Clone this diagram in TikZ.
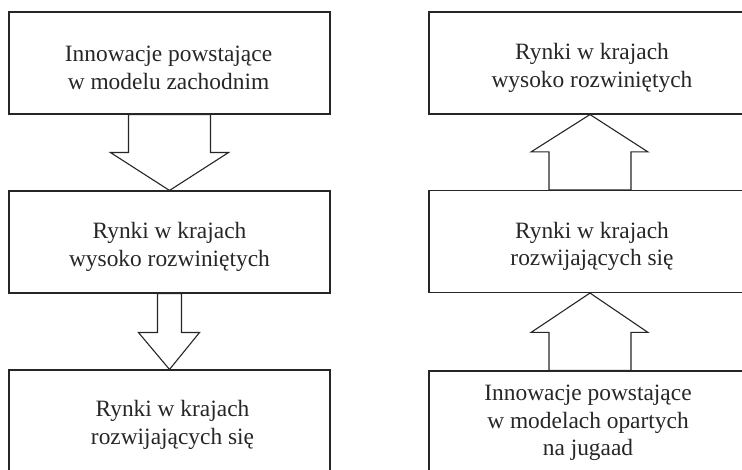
\documentclass[tikz,border=0pt]{standalone}
\usepackage{fontspec}
\setmainfont{Liberation Serif}
\usetikzlibrary{calc}
\begin{document}
\begin{tikzpicture}[x=1pt,y=-1pt,
  stagebox/.style={draw=black!85, line width=1.1pt, rectangle, minimum height=102pt, inner sep=0pt},
  leftbox/.style={stagebox, minimum width=321pt},
  rightbox/.style={stagebox, minimum width=322pt},
  boxtext/.style={align=center, font=\fontsize{23.4}{27.5}\selectfont, text=black!85, inner sep=0pt},
  blockarrow/.style={draw=black!85, line width=1.1pt, fill=white, line join=miter}]
\useasboundingbox (0,0) rectangle (742,470);
\clip (0,0) rectangle (742,470);
% left column
\node[leftbox] (l1) at (169.5,63) {};
\node[leftbox] (l2) at (169.5,242) {};
\node[leftbox] (l3) at (169.5,421) {};
\node[boxtext] (tl1) at ($(l1.center)+(-1,5)$) {Innowacje powstające\\w modelu zachodnim};
\node[boxtext] (tl2) at ($(l2.center)+(0,5)$) {Rynki w krajach\\wysoko rozwiniętych};
\node[boxtext] (tl3) at ($(l3.center)+(3,4)$) {Rynki w krajach\\rozwijających się};
% right column
\node[rightbox] (r1) at (590,63) {};
\node[rightbox] (r2) at (590,241.5) {};
\node[rightbox] (r3) at (590,422) {};
\node[boxtext] (tr1) at ($(r1.center)+(2,5)$) {Rynki w krajach\\wysoko rozwiniętych};
\node[boxtext] (tr2) at ($(r2.center)+(2,5)$) {Rynki w krajach\\rozwijających się};
\node[boxtext] (tr3) at ($(r3.center)+(-2,1)$) {Innowacje powstające\\w modelach opartych\\na jugaad};
% block arrows (left, downward)
\draw[blockarrow] ($(l1.south)+(-41,0)$) -- ($(l1.south)+(-41,38)$) -- ($(l1.south)+(-59,38)$)
  -- (l2.north) -- ($(l1.south)+(59,38)$) -- ($(l1.south)+(41,38)$) -- ($(l1.south)+(41,0)$) -- cycle;
\draw[blockarrow] ($(l2.south)+(-12,0)$) -- ($(l2.south)+(-12,39)$) -- ($(l2.south)+(-31,39)$)
  -- (l3.north) -- ($(l2.south)+(30,39)$) -- ($(l2.south)+(12,39)$) -- ($(l2.south)+(12,0)$) -- cycle;
% block arrows (right, upward)
\draw[blockarrow] ($(r2.north)+(-41,0)$) -- ($(r2.north)+(-41,-38)$) -- ($(r2.north)+(-59,-38)$)
  -- (r1.south) -- ($(r2.north)+(58,-38)$) -- ($(r2.north)+(41,-38)$) -- ($(r2.north)+(41,0)$) -- cycle;
\draw[blockarrow] ($(r3.north)+(-41,0)$) -- ($(r3.north)+(-41,-38)$) -- ($(r3.north)+(-59,-38)$)
  -- (r2.south) -- ($(r3.north)+(58,-38)$) -- ($(r3.north)+(41,-38)$) -- ($(r3.north)+(41,0)$) -- cycle;
\end{tikzpicture}
\end{document}
